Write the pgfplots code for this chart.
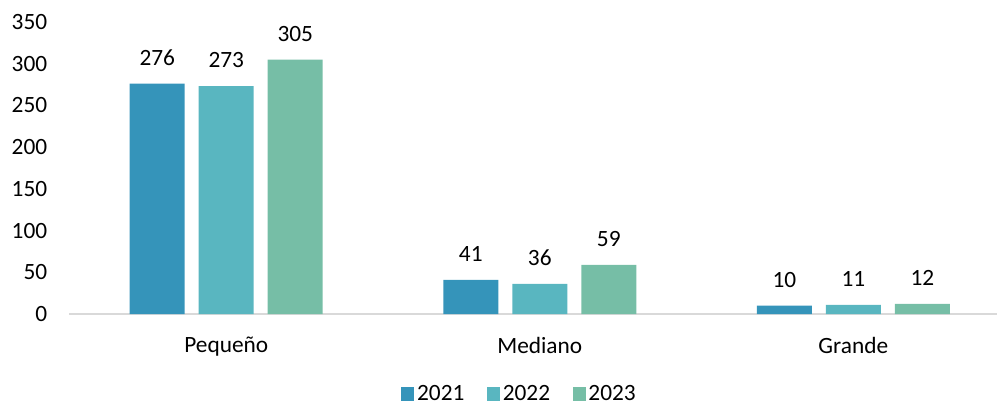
\documentclass[border=0pt]{standalone}
\usepackage{pgfplots}
\pgfplotsset{compat=1.18}
\usepackage{fontspec}
\setmainfont{Carlito}
\definecolor{c21}{HTML}{3594BA}
\definecolor{c22}{HTML}{59B6C0}
\definecolor{c23}{HTML}{76BEA6}
\definecolor{axgray}{HTML}{D9D9D9}
\begin{document}
\begin{tikzpicture}
\useasboundingbox (0,0) rectangle (747.75pt,303.75pt);
\begin{axis}[
  at={(52.1pt,68.25pt)}, anchor=south west,
  scale only axis,
  width=695.6pt, height=219pt,
  xmin=-0.5, xmax=2.458, ymin=0, ymax=350,
  ytick={0,50,...,350},
  xtick={0,1,2},
  xticklabels={Pequeño,Mediano,Grande},
  axis x line=bottom, axis y line=left,
  x axis line style={draw=axgray, line width=1.5pt, -},
  y axis line style={draw=none},
  tick style={draw=none},
  major tick length=0pt,
  /pgf/number format/assume math mode=true,
  ticklabel style={font=\fontsize{17.5}{20}\selectfont, text=black},
  yticklabel style={anchor=east, inner sep=0pt, xshift=-16.5pt},
  xticklabel style={anchor=north, inner sep=0pt, yshift=-17pt},
  ybar, bar width=41.25pt,
  nodes near coords,
  every node near coord/.append style={font=\fontsize{17.5}{20}\selectfont, text=black, anchor=south, inner sep=0pt, yshift=13.5pt},
  legend columns=3,
  legend style={at={(axis description cs:0.4857,-0.274)}, anchor=center, draw=none, fill=none,
    font=\fontsize{17.5}{20}\selectfont, inner sep=0pt,
    /tikz/every even column/.append style={column sep=15pt}},
  legend cell align=left,
  legend image code/.code={\fill[#1] (0pt,-4.9pt) rectangle (9.75pt,4.9pt);},
]
\addplot[fill=c21, draw=none, bar shift=-51.75pt] coordinates {(0,276) (1,41) (2,10)};
\addplot[fill=c22, draw=none, bar shift=0pt] coordinates {(0,273) (1,36) (2,11)};
\addplot[fill=c23, draw=none, bar shift=51.75pt] coordinates {(0,305) (1,59) (2,12)};
\legend{2021,2022,2023}
\end{axis}
\end{tikzpicture}
\end{document}
